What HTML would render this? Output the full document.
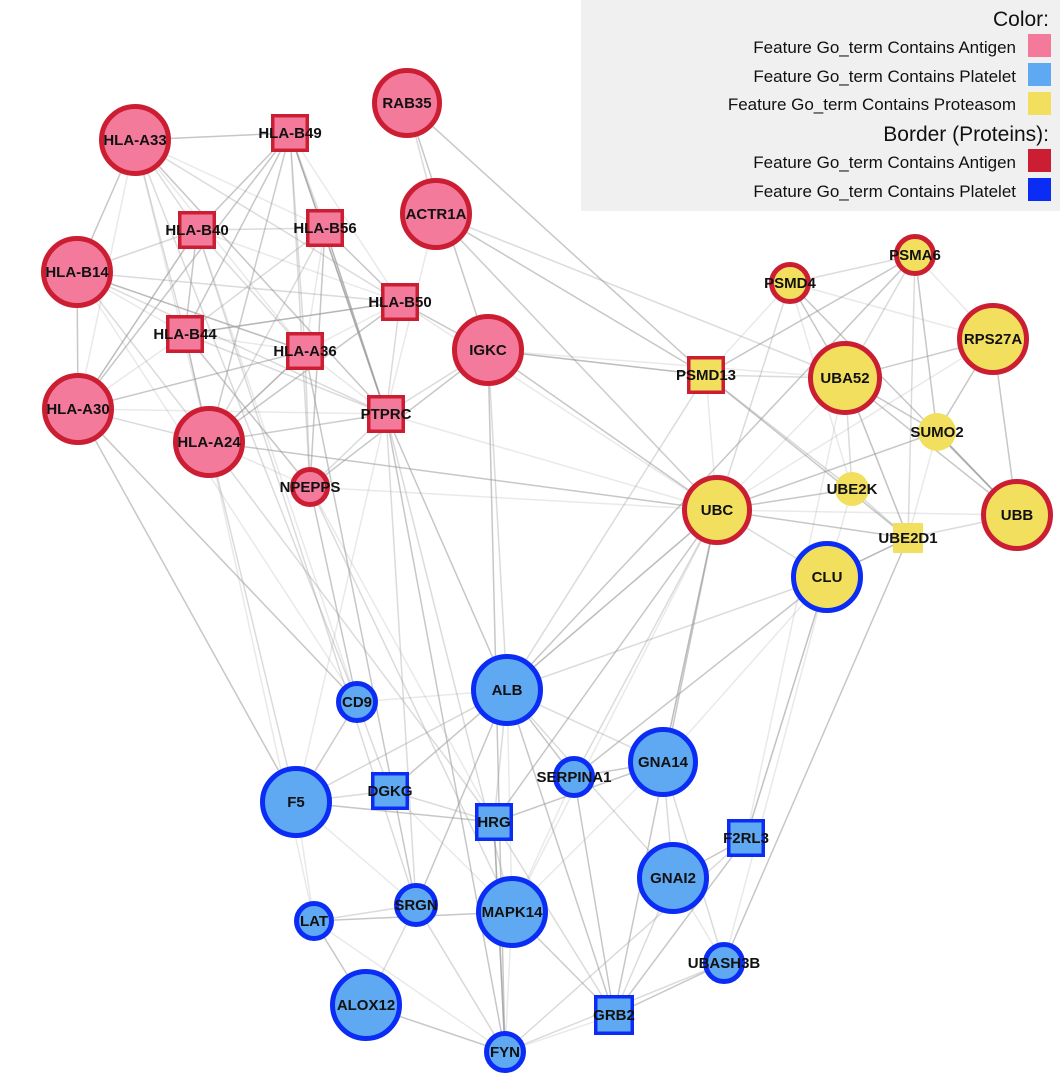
<!DOCTYPE html>
<html><head><meta charset="utf-8"><style>
html,body{margin:0;padding:0;background:#fff;}
svg{display:block;font-family:"Liberation Sans",Arial,sans-serif;}
</style></head><body>
<svg id="chart" width="1060" height="1092" viewBox="0 0 1060 1092">
<g id="edges"></g>
<g id="nodes"></g>
<g>
<rect x="581" y="0" width="479" height="211" fill="#f0f0f0"/>
<text x="1049" y="26" font-size="21" text-anchor="end" fill="#111">Color:</text>
<text x="1016" y="53" font-size="17" text-anchor="end" fill="#111">Feature Go_term Contains Antigen</text>
<rect x="1028" y="34" width="23" height="23" fill="#f47a9c"/>
<text x="1016" y="82" font-size="17" text-anchor="end" fill="#111">Feature Go_term Contains Platelet</text>
<rect x="1028" y="63" width="23" height="23" fill="#5fa8f2"/>
<text x="1016" y="110" font-size="17" text-anchor="end" fill="#111">Feature Go_term Contains Proteasom</text>
<rect x="1028" y="92" width="23" height="23" fill="#f2df5e"/>
<text x="1049" y="141" font-size="21" text-anchor="end" fill="#111">Border (Proteins):</text>
<text x="1016" y="168" font-size="17" text-anchor="end" fill="#111">Feature Go_term Contains Antigen</text>
<rect x="1028" y="149" width="23" height="23" fill="#cc1e33"/>
<text x="1016" y="197" font-size="17" text-anchor="end" fill="#111">Feature Go_term Contains Platelet</text>
<rect x="1028" y="178" width="23" height="23" fill="#0b2cf5"/>
</g>
</svg>
<script>
const nodeNames = ["HLA-A33","HLA-B49","RAB35","HLA-B40","HLA-B56","ACTR1A","HLA-B14","HLA-B50","HLA-B44","HLA-A36","IGKC","HLA-A30","PTPRC","HLA-A24","NPEPPS",
"PSMD4","PSMA6","RPS27A","PSMD13","UBA52","SUMO2","UBE2K","UBC","UBB","UBE2D1","CLU",
"ALB","CD9","GNA14","SERPINA1","F5","DGKG","HRG","F2RL3","GNAI2","SRGN","MAPK14","LAT","UBASH3B","ALOX12","GRB2","FYN"];
const nodeX = [135,290,407,197,325,436,77,400,185,305,488,78,386,209,310, 790,915,993,706,845,937,852,717,1017,908,827, 507,357,663,574,296,390,494,746,673,416,512,314,724,366,614,505];
const nodeY = [140,133,103,230,228,214,272,302,334,351,350,409,414,442,487, 283,255,339,375,378,432,489,510,515,538,577, 690,702,762,777,802,791,822,838,878,905,912,921,963,1005,1015,1052];
const nodeSize = [36,19,35,19,19,36,36,19,19,19,36,36,19,36,20, 21,21,36,19,37,19,17,35,36,15,36, 36,21,35,21,36,19,19,19,36,22,36,20,21,36,20,21];
const nodeShape = ["c","s","c","s","s","c","c","s","s","s","c","c","s","c","c", "c","c","c","s","c","c","c","c","c","s","c", "c","c","c","c","c","s","s","s","c","c","c","c","c","c","s","c"];
const nodeFill = ["A","A","A","A","A","A","A","A","A","A","A","A","A","A","A", "P","P","P","P","P","P","P","P","P","P","P", "L","L","L","L","L","L","L","L","L","L","L","L","L","L","L","L"];
const nodeBorder = ["A","A","A","A","A","A","A","A","A","A","A","A","A","A","A", "A","A","A","A","A","N","N","A","A","N","L", "L","L","L","L","L","L","L","L","L","L","L","L","L","L","L","L"];
const edgeSrc = [0,0,0,0,0,0,1,1,1,1,1,1,1,3,3,3,3,3,4,4,4,4,4,6,6,6,6,6,6,7,7,7,8,8,8,8,8,9,9,9,11,11,11,13,13,13,12,12,12,12,10,10,10,10,5,5,5,2,2,14,14,
15,15,15,15,15,16,16,16,16,17,17,17,18,18,18,18,18,19,19,19,19,19,19,20,20,20,21,21,22,22,22,22,22,22,22,22,23,23,24,25,25,25,25,
26,26,26,26,26,26,26,26,27,27,28,28,28,28,28,29,29,30,30,30,31,31,32,32,34,34,34,36,36,36,37,37,37,40,40,38,38,33,33,41,41,39,35,
13,13,6,11,0,12,12,12,8,9,3,5,10,14,14,1,4,7,2,5,22,22,25,25,17,23,19,16,
0,0,1,1,3,4,6,6,7,8,11,13,9,12,10,10,15,15,16,18,18,19,20,22,24,21,0,1,3,11,13,26,26,27,30,32,34,36,38];
const edgeDst = [1,3,4,6,8,13,3,4,7,8,9,13,12,4,6,8,9,7,7,8,9,12,13,8,11,13,3,9,7,9,8,12,11,13,12,9,14,13,12,11,13,0,3,12,14,7,14,22,26,36,18,22,26,19,18,22,12,10,5,22,27,
16,18,19,22,17,18,19,17,20,19,22,23,19,22,10,26,21,20,21,22,23,24,17,22,23,24,22,24,23,24,25,26,28,29,36,32,24,20,25,26,28,29,33,
27,29,28,30,31,32,36,35,31,30,29,34,36,32,38,36,40,31,37,32,32,36,41,40,38,33,40,41,37,40,41,39,35,41,38,41,38,40,41,35,39,35,41,
22,30,27,30,27,30,41,35,37,35,35,22,41,36,32,12,12,22,18,19,28,40,33,38,20,20,33,26,
7,9,11,13,11,14,12,9,10,7,12,9,14,13,14,12,21,23,24,21,24,24,23,26,25,25,12,14,27,27,32,30,40,30,35,41,26,40,24];

const colors = {A:"#f47a9c",P:"#f2df5e",L:"#5fa8f2"};
const borders = {A:"#cc1e33",L:"#0b2cf5",N:"none"};
const NS = "http://www.w3.org/2000/svg";
const eg = document.getElementById("edges");
const ng = document.getElementById("nodes");
for (let i = 0; i < edgeSrc.length; i++) {
  const a = edgeSrc[i], b = edgeDst[i];
  const ln = document.createElementNS(NS, "line");
  ln.setAttribute("x1", nodeX[a]); ln.setAttribute("y1", nodeY[a]);
  ln.setAttribute("x2", nodeX[b]); ln.setAttribute("y2", nodeY[b]);
  ln.setAttribute("stroke", "#999");
  ln.setAttribute("stroke-width", "1.5");
  ln.setAttribute("stroke-opacity", (i % 3 === 0) ? "0.55" : (i % 3 === 1 ? "0.35" : "0.22"));
  
  
  eg.appendChild(ln);
}
for (let i = 0; i < nodeNames.length; i++) {
  const g = document.createElementNS(NS, "g");
  
  
  const s = nodeSize[i];
  let sh;
  const bw = nodeBorder[i] === "N" ? 0 : (nodeShape[i] === "s" ? 3.5 : 5);
  if (nodeShape[i] === "c") {
    sh = document.createElementNS(NS, "circle");
    sh.setAttribute("cx", nodeX[i]); sh.setAttribute("cy", nodeY[i]); sh.setAttribute("r", s - bw / 2);
  } else {
    sh = document.createElementNS(NS, "rect");
    sh.setAttribute("x", nodeX[i] - s + bw / 2); sh.setAttribute("y", nodeY[i] - s + bw / 2);
    sh.setAttribute("width", 2 * s - bw); sh.setAttribute("height", 2 * s - bw);
  }
  sh.setAttribute("fill", colors[nodeFill[i]]);
  sh.setAttribute("stroke", borders[nodeBorder[i]]);
  sh.setAttribute("stroke-width", bw);
  
  
  g.appendChild(sh);
  const t = document.createElementNS(NS, "text");
  t.setAttribute("x", nodeX[i]); t.setAttribute("y", nodeY[i] + 5);
  t.setAttribute("text-anchor", "middle");
  t.setAttribute("font-size", "15");
  t.setAttribute("font-weight", "bold");
  t.setAttribute("fill", "#111");
  t.textContent = nodeNames[i];
  
  
  g.appendChild(t);
  ng.appendChild(g);
}
</script>
</body></html>
